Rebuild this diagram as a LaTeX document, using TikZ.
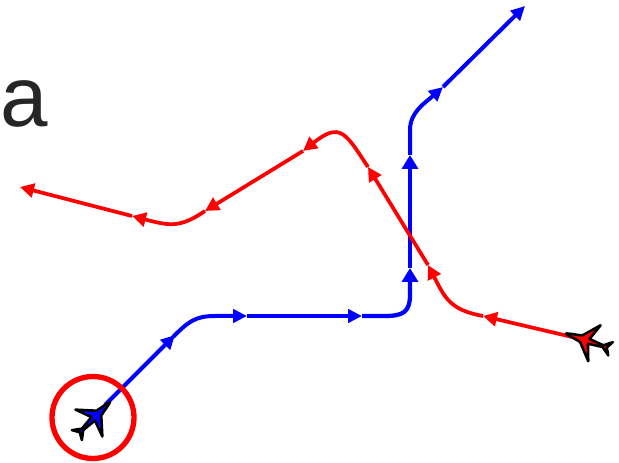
\documentclass[tikz,border=0pt]{standalone}
\usepackage{fontspec}
\setmainfont{Liberation Sans}
\usepackage{xcolor}
\usetikzlibrary{arrows.meta}
\definecolor{routeblue}{RGB}{0, 0, 255}
\definecolor{routered}{RGB}{255, 0, 0}
\definecolor{labelgray}{RGB}{38, 38, 38}
\tikzset{
    bluelegs/.style={routeblue,line width=3pt,-{Triangle[length=10.5pt,width=10pt]}},
    bluetall/.style={routeblue,line width=3.2pt,-{Triangle[length=10.5pt,width=12pt]}},
    redlegs/.style={routered,line width=2.8pt,-{Triangle[length=10.5pt,width=10.5pt]}},
    plane/.pic={
        \filldraw[black,fill=#1,line width=1.9pt,line join=round]
            (20,0) .. controls (17,1.5) and (9,2) .. (4,3.5) -- (-10,19) -- (-4,2.5)
            -- (-19,1) -- (-27,7) -- (-23,0) -- (-27,-7) -- (-19,-1) -- (-4,-2.5)
            -- (-10,-19) -- (4,-3.5) .. controls (9,-2) and (17,-1.5) .. (20,0) -- cycle;
    }
}
\begin{document}
\begin{tikzpicture}[x=0.75pt,y=-0.75pt]
    \useasboundingbox (0,0) rectangle (619,463);
    \node[labelgray,anchor=base west,inner sep=0pt,font=\fontsize{64}{64}\selectfont] (panel) at (0,127) {a};

    % blue route
    \draw[bluelegs] (105,405) -- (175,335);
    \draw[bluelegs] (173,337) .. controls (188,322) and (195,316) .. (215,316) -- (247,316);
    \draw[bluelegs] (247,316) -- (362,316);
    \draw[bluetall] (362,316) -- (385,316) .. controls (403,316) and (410,312) .. (410,295) -- (410,268);
    \draw[bluetall] (410,268) -- (410,155);
    \draw[bluelegs] (410,155) -- (410,130) .. controls (410,112) and (425,103) .. (443,87);
    \draw[bluelegs] (443,87) -- (525,6);

    % red route
    \draw[redlegs] (585,340) -- (483,316);
    \draw[redlegs] (483,316) .. controls (450,310) and (445,298) .. (428,265);
    \draw[redlegs] (428,265) -- (368,167);
    \draw[redlegs] (368,167) .. controls (345,132) and (340,122) .. (303,151);
    \draw[redlegs] (303,151) -- (205,211);
    \draw[redlegs] (205,211) .. controls (180,228) and (170,226) .. (132,216);
    \draw[redlegs] (132,216) -- (20,187);

    \draw[routered,line width=4pt] (93,417.5) circle (41);
    \pic[rotate=45] at (96,416) {plane=routeblue};
    \pic[rotate=161] at (585,340) {plane=routered};
\end{tikzpicture}
\end{document}
